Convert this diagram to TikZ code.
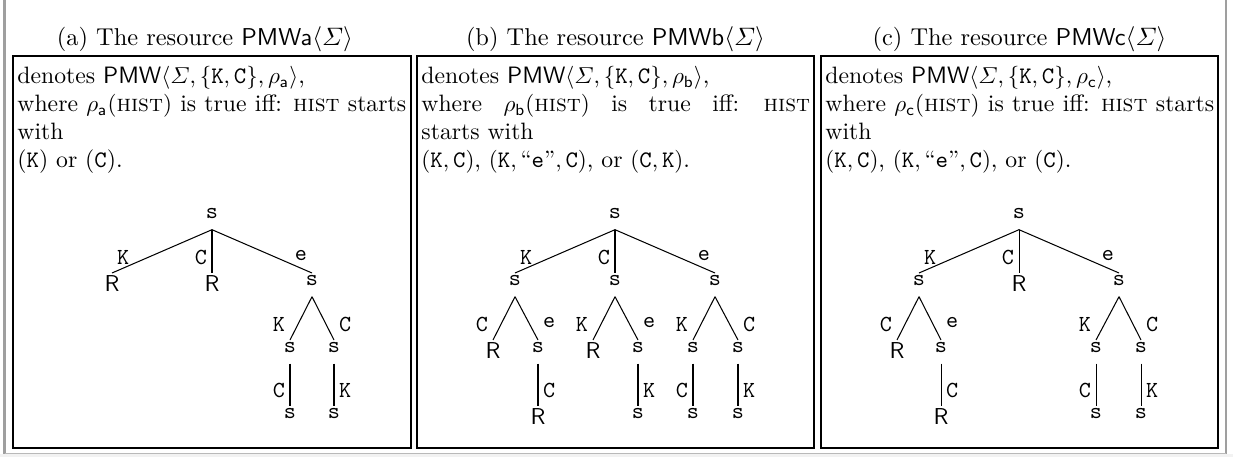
\documentclass[tikz,border=0pt]{standalone}
\usepackage{amsmath}
\newcommand{\pmwname}[1]{\textsf{PMW#1}}
\newcommand{\hst}{\textsc{hist}}
\newcommand{\tk}{\texttt{K}}
\newcommand{\tc}{\texttt{C}}
\newcommand{\txtsize}{\fontsize{10.3}{12.2}\selectfont}
% a line whose interword spaces are stretched to the full width
\newcommand{\fullline}[1]{\leavevmode\hbox to\linewidth{\spaceskip=0.33em plus 1fil minus 0.1em\xspaceskip=0.45em plus 1fil minus 0.1em #1}}
\begin{document}
\begin{tikzpicture}[x=0.4348pt,y=-0.4348pt,
  tn/.style={inner xsep=0.5pt, inner ysep=1pt, text depth=3.5pt, anchor=north, font=\ttfamily},
  rn/.style={tn, font=\sffamily},
  lbl/.style={font=\ttfamily, inner sep=0pt, anchor=north, at end, yshift=10pt},
  lblL/.style={lbl, xshift=-4.8pt},
  lblR/.style={lbl, xshift=4.8pt},
  edge/.style={line width=0.45pt},
  panel/.style={draw, line width=0.6pt},
  title/.style={anchor=base, inner sep=0pt, font=\fontsize{10.6}{12.2}\selectfont},
  body/.style={anchor=north west, inner sep=0pt, text width=169pt, align=left, font=\txtsize}
]
\useasboundingbox (0,0) rectangle (1233,457);
% outer frame
\fill[gray!10] (0,454) rectangle (1233,457);
\draw[gray!75, line width=0.9pt] (4.5,0) -- (4.5,454);
\draw[gray!75, line width=0.9pt] (1226,0) -- (1226,454);
\draw[gray!55, line width=0.5pt] (4.5,453.5) -- (1226,453.5);

% panels
\draw[panel] (13,56) rectangle (411,448);
\draw[panel] (417,56) rectangle (814,448);
\draw[panel] (821,56) rectangle (1218,448);

% titles
\node[title] (ha) at (205,46) {(a) The resource \pmwname{a}$\langle\varSigma\rangle$};
\node[title] (hb) at (615.5,46) {(b) The resource \pmwname{b}$\langle\varSigma\rangle$};
\node[title] (hc) at (1019.5,46) {(c) The resource \pmwname{c}$\langle\varSigma\rangle$};

% descriptions
\node[body] (da) at (17,66) {denotes \pmwname{}$\langle\varSigma, \{\tk,\tc\}, \rho_{\mathsf{a}}\rangle$,\\
\fullline{where $\rho_{\mathsf{a}}(\hst)$ is true iff: \hst{} starts}\\
with\\
(\tk) or (\tc).};
\node[body] (db) at (421,66) {denotes \pmwname{}$\langle\varSigma, \{\tk,\tc\}, \rho_{\mathsf{b}}\rangle$,\\
\fullline{where $\rho_{\mathsf{b}}(\hst)$ is true iff: \hst}\\
starts with\\
$(\tk,\tc)$, $(\tk,\text{``\texttt{e}''},\tc)$, or $(\tc,\tk)$.};
\node[body] (dc) at (825,66) {denotes \pmwname{}$\langle\varSigma, \{\tk,\tc\}, \rho_{\mathsf{c}}\rangle$,\\
\fullline{where $\rho_{\mathsf{c}}(\hst)$ is true iff: \hst{} starts}\\
with\\
$(\tk,\tc)$, $(\tk,\text{``\texttt{e}''},\tc)$, or $(\tc)$.};

% ---- tree (a)
\node[tn] (a0) at (212,206) {s};
\node[rn] (a1) at (112,273) {R};
\node[rn] (a2) at (212,273) {R};
\node[tn] (a3) at (312,273) {s};
\node[tn] (a31) at (290,340) {s};
\node[tn] (a32) at (334,340) {s};
\node[tn] (a311) at (290,406) {s};
\node[tn] (a321) at (334,406) {s};
\draw[edge] (a0.south) -- node[lblR] {K} (a1.north);
\draw[edge] (a0.south) -- node[lblL] {C} (a2.north);
\draw[edge] (a0.south) -- node[lblL] {e} (a3.north);
\draw[edge] (a3.south) -- node[lblL] {K} (a31.north);
\draw[edge] (a3.south) -- node[lblR] {C} (a32.north);
\draw[edge] (a31.south) -- node[lblL] {C} (a311.north);
\draw[edge] (a32.south) -- node[lblR] {K} (a321.north);

% ---- tree (b)
\node[tn] (b0) at (615,206) {s};
\node[tn] (b1) at (515,273) {s};
\node[tn] (b2) at (615,273) {s};
\node[tn] (b3) at (715,273) {s};
\node[rn] (b11) at (493,340) {R};
\node[tn] (b12) at (538,340) {s};
\node[rn] (b121) at (538,406) {R};
\node[rn] (b21) at (593,340) {R};
\node[tn] (b22) at (638,340) {s};
\node[tn] (b221) at (638,406) {s};
\node[tn] (b31) at (693,340) {s};
\node[tn] (b32) at (738,340) {s};
\node[tn] (b311) at (693,406) {s};
\node[tn] (b321) at (738,406) {s};
\draw[edge] (b0.south) -- node[lblR] {K} (b1.north);
\draw[edge] (b0.south) -- node[lblL] {C} (b2.north);
\draw[edge] (b0.south) -- node[lblL] {e} (b3.north);
\draw[edge] (b1.south) -- node[lblL] {C} (b11.north);
\draw[edge] (b1.south) -- node[lblR] {e} (b12.north);
\draw[edge] (b12.south) -- node[lblR] {C} (b121.north);
\draw[edge] (b2.south) -- node[lblL] {K} (b21.north);
\draw[edge] (b2.south) -- node[lblR] {e} (b22.north);
\draw[edge] (b22.south) -- node[lblR] {K} (b221.north);
\draw[edge] (b3.south) -- node[lblL] {K} (b31.north);
\draw[edge] (b3.south) -- node[lblR] {C} (b32.north);
\draw[edge] (b31.south) -- node[lblL] {C} (b311.north);
\draw[edge] (b32.south) -- node[lblR] {K} (b321.north);

% ---- tree (c)
\node[tn] (c0) at (1019,206) {s};
\node[tn] (c1) at (919,273) {s};
\node[rn] (c2) at (1019,273) {R};
\node[tn] (c3) at (1119,273) {s};
\node[rn] (c11) at (897,340) {R};
\node[tn] (c12) at (941,340) {s};
\node[rn] (c121) at (941,406) {R};
\node[tn] (c31) at (1096,340) {s};
\node[tn] (c32) at (1141,340) {s};
\node[tn] (c311) at (1096,406) {s};
\node[tn] (c321) at (1141,406) {s};
\draw[edge] (c0.south) -- node[lblR] {K} (c1.north);
\draw[edge] (c0.south) -- node[lblL] {C} (c2.north);
\draw[edge] (c0.south) -- node[lblL] {e} (c3.north);
\draw[edge] (c1.south) -- node[lblL] {C} (c11.north);
\draw[edge] (c1.south) -- node[lblR] {e} (c12.north);
\draw[edge] (c12.south) -- node[lblR] {C} (c121.north);
\draw[edge] (c3.south) -- node[lblL] {K} (c31.north);
\draw[edge] (c3.south) -- node[lblR] {C} (c32.north);
\draw[edge] (c31.south) -- node[lblL] {C} (c311.north);
\draw[edge] (c32.south) -- node[lblR] {K} (c321.north);
\end{tikzpicture}
\end{document}
